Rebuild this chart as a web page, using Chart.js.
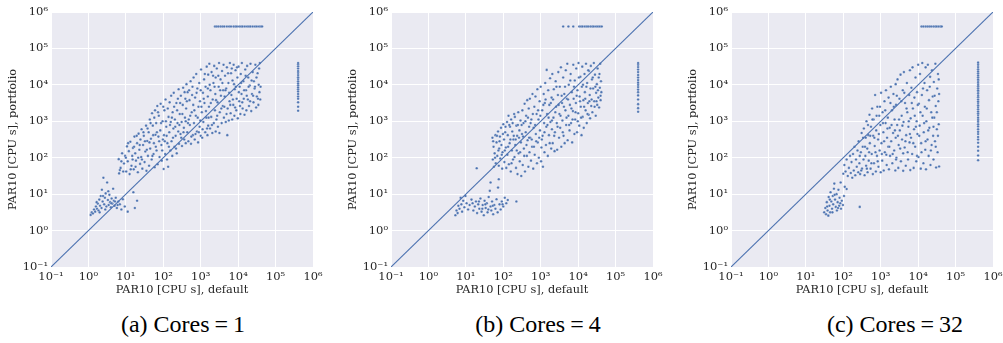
<!DOCTYPE html>
<html>
<head>
<meta charset="utf-8">
<script src="https://cdn.jsdelivr.net/npm/chart.js@4.4.1/dist/chart.umd.min.js"></script>
<style>
  body { margin: 0; background: #fff; width: 1003px; height: 343px; position: relative; overflow: hidden; }
  canvas { position: absolute; top: 0; }
  .cap { position: absolute; top: 311px; width: 260px; text-align: center; font-family: "Liberation Serif", serif; font-size: 24px; color: #000; }
  .cap .eq { margin: 0 5px; }
</style>
</head>
<body>
<canvas id="c1" width="330" height="300" style="left:0px"></canvas>
<canvas id="c2" width="330" height="300" style="left:340px"></canvas>
<canvas id="c3" width="323" height="300" style="left:680px"></canvas>
<div class="cap" style="left:53px">(a) Cores<span class="eq">=</span>1</div>
<div class="cap" style="left:408px">(b) Cores<span class="eq">=</span>4</div>
<div class="cap" style="left:765px">(c) Cores<span class="eq">=</span>32</div>
<script>
// all values are log10 of PAR10 seconds, [default, portfolio]
const decades = [-1, 0, 1, 2, 3, 4, 5, 6];
const timeoutPar10 = 4e5;
const diagonal = [0.1, 1e6];

// ---- cores = 1
const cloud1 = [
  [0.81,1.96],[0.82,1.57],[0.84,1.66],[0.86,1.72],[0.9,2.12],[0.95,1.84],[0.98,2.05],
  [1.01,1.62],[1.03,2.31],[1.05,1.9],[1.08,2.18],[1.1,1.55],[1.12,2.44],[1.15,1.78],[1.17,2.05],[1.19,2.27],
  [1.21,1.68],[1.23,2.58],[1.25,2.12],[1.27,1.92],[1.3,2.4],[1.32,1.6],[1.34,2.66],[1.36,2.22],[1.38,1.83],[1.39,2.5],
  [1.41,2.02],[1.42,2.78],[1.44,1.7],[1.46,2.35],[1.48,2.6],[1.5,1.88],[1.52,2.17],[1.54,2.88],[1.55,1.64],[1.57,2.46],[1.59,2.05],
  [1.61,2.7],[1.62,1.78],[1.64,3.05],[1.65,2.25],[1.67,2.52],[1.69,1.95],[1.7,3.22],[1.72,2.88],[1.74,2.1],[1.75,2.4],[1.77,1.74],[1.78,3.3],[1.79,2.63],
  [1.81,2.95],[1.82,2.2],[1.84,3.42],[1.85,1.82],[1.87,2.58],[1.88,3.15],[1.9,2.02],[1.92,2.75],[1.93,3.48],[1.95,2.35],[1.96,1.92],[1.98,3.0],[1.99,2.5],
  [2.01,1.69],[2.02,2.62],[2.03,3.3],[2.05,2.1],[2.06,3.6],[2.08,2.85],[2.1,1.95],[2.11,2.4],[2.13,1.75],[2.14,3.12],[2.16,2.7],[2.17,3.52],[2.19,2.2],[2.2,2.98],
  [2.21,3.7],[2.22,2.45],[2.24,2.05],[2.25,3.25],[2.27,2.8],[2.28,3.78],[2.3,2.3],[2.31,3.05],[2.33,2.6],[2.35,3.5],[2.36,2.12],[2.38,2.95],[2.39,3.62],[2.4,2.72],
  [2.41,3.88],[2.42,2.38],[2.44,3.2],[2.46,2.65],[2.47,3.7],[2.49,2.98],[2.5,2.32],[2.52,3.45],[2.53,3.92],[2.55,2.82],[2.56,2.5],[2.58,3.1],[2.59,3.62],[2.6,2.4],
  [2.61,3.35],[2.62,4.02],[2.64,2.7],[2.65,3.8],[2.67,2.45],[2.68,3.05],[2.7,3.58],[2.71,2.9],[2.73,4.1],[2.74,2.38],[2.76,3.25],[2.77,3.72],[2.79,2.62],[2.8,3.45],
  [2.81,4.2],[2.82,2.95],[2.84,2.5],[2.85,3.65],[2.87,3.15],[2.88,4.3],[2.9,2.72],[2.91,3.9],[2.93,2.42],[2.94,3.4],[2.96,4.05],[2.97,2.85],[2.98,3.55],[2.99,3.02],[3.0,2.6],
  [3.01,4.42],[3.03,3.25],[3.04,2.55],[3.06,3.78],[3.07,2.98],[3.09,4.15],[3.1,3.5],[3.12,2.7],[3.13,3.95],[3.15,3.1],[3.16,4.5],[3.18,2.62],[3.19,3.68],[3.2,4.28],[3.2,2.88],
  [3.22,3.4],[3.23,4.58],[3.25,2.8],[3.26,3.85],[3.28,3.12],[3.29,4.35],[3.31,2.68],[3.32,3.6],[3.34,4.05],[3.35,2.95],[3.36,4.52],[3.38,3.3],[3.39,3.75],[3.4,2.72],[3.4,4.2],
  [3.42,3.05],[3.43,4.45],[3.45,3.52],[3.46,2.85],[3.48,3.95],[3.49,4.6],[3.5,2.68],[3.51,3.25],[3.53,4.15],[3.54,3.7],[3.56,2.95],[3.57,4.38],[3.59,3.42],[3.6,3.85],
  [3.61,4.55],[3.62,3.1],[3.64,3.68],[3.65,4.25],[3.67,2.98],[3.68,3.9],[3.7,4.48],[3.71,2.62],[3.72,3.35],[3.74,4.05],[3.75,3.02],[3.77,3.55],[3.78,4.6],[3.8,3.22],
  [3.81,4.32],[3.82,3.72],[3.84,3.05],[3.85,4.12],[3.87,3.45],[3.88,4.55],[3.9,3.15],[3.91,3.88],[3.93,4.4],[3.95,3.3],[3.96,3.62],[3.98,4.2],[3.99,3.08],
  [4.01,4.5],[4.03,3.55],[4.04,3.95],[4.06,3.2],[4.07,4.3],[4.09,3.75],[4.1,4.6],[4.12,3.35],[4.14,4.1],[4.15,3.62],[4.17,3.18],[4.19,4.42],
  [4.21,3.85],[4.22,3.3],[4.24,4.52],[4.26,3.6],[4.27,4.2],[4.29,3.42],[4.31,3.98],[4.33,4.58],[4.35,3.28],[4.37,3.75],[4.39,4.35],
  [4.41,3.52],[4.42,4.1],[4.44,3.9],[4.46,4.55],[4.48,3.38],[4.5,3.68],[4.52,4.32],[4.54,3.45],[4.55,4.0],[4.57,3.8],[4.58,4.6],[4.59,3.6],
  [0.88,1.9],[0.93,1.62],[1.0,2.0],[1.06,2.4],[1.13,1.68],[1.18,1.95],
  [1.22,2.3],[1.26,1.75],[1.29,2.6],[1.33,2.0],[1.37,2.35],[1.43,1.95],[1.47,2.7],[1.51,2.45],[1.56,2.22],[1.58,2.8],
  [1.63,2.42],[1.66,2.95],[1.71,2.05],[1.73,2.62],[1.76,3.1],[1.8,2.3],[1.83,2.7],[1.86,3.25],[1.89,2.45],[1.94,2.95],[1.97,2.2],[2.0,3.4],
  [2.04,2.45],[2.07,3.0],[2.09,2.6],[2.12,3.35],[2.15,2.3],[2.18,2.9],[2.23,3.1],[2.26,2.55],[2.29,3.4],[2.32,2.85],[2.34,2.25],[2.37,3.3],
  [2.43,2.9],[2.45,3.5],[2.48,2.55],[2.51,3.2],[2.54,2.7],[2.57,3.8],[2.6,3.0],[2.63,3.55],[2.66,2.95],[2.69,3.85],[2.72,3.15],[2.75,2.58],[2.78,3.95],
  [2.83,3.3],[2.86,2.65],[2.89,3.78],[2.92,3.1],[2.95,2.7],[3.0,3.85],[3.02,3.4],[3.05,2.78],[3.08,3.62],[3.11,4.3],[3.14,3.28],[3.17,2.8],[3.19,3.9],
  [3.21,3.1],[3.24,4.0],[3.27,3.5],[3.3,2.9],[3.33,4.25],[3.37,3.95],[3.41,3.58],[3.44,3.15],[3.47,4.25],[3.52,3.85],[3.55,3.35],[3.58,4.05],
  [3.63,3.4],[3.66,3.85],[3.69,3.2],[3.73,4.32],[3.76,3.78],[3.79,3.45],[3.83,4.45],[3.86,3.6],[3.89,4.02],[3.92,3.38],[3.94,3.95],[3.97,4.48],
  [4.02,3.8],[4.05,3.42],[4.08,4.05],[4.11,3.52],[4.16,3.85],[4.2,4.25],[4.23,3.7],[4.28,3.95],[4.32,3.55],[4.36,4.12],[4.4,3.7],[4.45,3.95],[4.49,4.2],[4.53,3.62],[4.56,4.45],[4.6,3.95]
];
const low1 = [
  [0.06,0.43],[0.09,0.5],[0.12,0.47],[0.15,0.58],[0.18,0.52],[0.2,0.66],[0.23,0.6],[0.25,0.74],[0.27,0.55],[0.29,0.85],
  [0.31,0.68],[0.33,0.95],[0.35,0.62],[0.36,1.12],[0.38,0.8],[0.4,1.45],[0.42,0.72],[0.44,0.9],[0.46,1.02],[0.48,0.66],
  [0.5,1.32],[0.52,0.84],[0.54,0.7],[0.56,0.98],[0.58,0.78],[0.6,0.64],[0.62,0.88],[0.64,0.74],[0.66,1.15],[0.68,0.82],
  [0.7,0.68],[0.73,0.9],[0.76,0.62],[0.8,0.8],[0.84,0.72],[0.88,0.58],[0.92,0.86],[0.97,0.66],[1.05,0.52],[1.2,1.05],[1.24,0.62],[1.3,0.82],
  [0.22,0.78],[0.3,0.5],[0.39,0.95],[0.45,0.58],[0.53,1.08],[0.61,0.75],[0.71,0.8],[0.78,0.7]
];
const row1 = [3.38,3.42,3.47,3.53,3.58,3.63,3.7,3.76,3.81,3.88,3.93,3.97,4.03,4.08,4.12,4.18,4.24,4.29,4.33,4.39,4.45,4.5,4.56,4.61,4.64];
const col1 = [3.29,3.4,3.52,3.62,3.68,3.75,3.82,3.88,3.93,3.99,4.04,4.1,4.16,4.21,4.27,4.33,4.38,4.45,4.51,4.56,4.6];

// ---- cores = 4
const cloud2 = [
  [1.29,1.71],
  [1.71,2.55],[1.72,1.95],[1.74,2.3],[1.75,1.75],[1.77,2.12],[1.79,2.62],[1.8,1.85],[1.82,2.42],[1.84,2.05],[1.86,2.72],[1.88,1.78],[1.89,2.25],
  [1.91,2.58],[1.92,1.98],[1.94,2.82],[1.95,2.35],[1.97,1.7],[1.98,2.15],[2.0,2.92],[2.02,2.5],[2.03,1.88],[2.05,2.7],[2.07,2.28],[2.08,1.72],[2.1,2.98],
  [2.11,2.08],[2.12,2.62],[2.14,3.15],[2.15,1.82],[2.17,2.4],[2.18,2.85],[2.2,1.62],[2.21,3.05],[2.23,2.2],[2.24,2.72],[2.26,1.95],[2.27,2.5],[2.29,3.2],[2.3,2.02],
  [2.31,3.12],[2.32,2.35],[2.34,1.72],[2.35,2.88],[2.37,2.6],[2.38,1.55],[2.4,3.25],[2.41,2.12],[2.43,2.75],[2.44,1.9],[2.46,3.02],[2.47,2.42],[2.48,1.5],[2.5,2.65],
  [2.51,3.3],[2.52,1.8],[2.54,2.95],[2.55,2.25],[2.57,3.48],[2.58,1.62],[2.6,2.7],[2.61,3.15],[2.63,2.05],[2.64,3.58],[2.65,2.48],[2.67,1.75],[2.68,3.35],[2.69,2.85],[2.7,2.15],
  [2.71,3.62],[2.72,2.55],[2.74,1.92],[2.75,3.05],[2.77,2.3],[2.78,3.75],[2.8,1.7],[2.81,2.82],[2.83,3.4],[2.84,2.08],[2.86,3.68],[2.87,2.65],[2.89,3.2],[2.9,1.85],
  [2.91,3.88],[2.92,2.42],[2.94,3.05],[2.95,2.0],[2.97,3.55],[2.98,2.75],[3.0,3.95],[3.01,1.9],[3.02,2.28],[3.04,3.3],[3.05,2.6],[3.06,1.75],[3.08,3.75],[3.09,2.95],[3.1,2.15],
  [3.11,3.5],[3.12,4.05],[3.14,2.35],[3.15,2.85],[3.16,4.41],[3.17,3.2],[3.19,2.05],[3.2,3.85],[3.22,2.62],[3.23,3.45],[3.25,4.18],[3.26,2.98],[3.28,2.25],[3.29,3.65],[3.3,2.78],
  [3.31,4.3],[3.32,2.4],[3.34,3.1],[3.35,3.88],[3.37,2.18],[3.38,2.7],[3.4,4.1],[3.41,3.4],[3.43,2.95],[3.44,2.22],[3.46,3.72],[3.47,4.35],[3.49,2.55],[3.5,3.2],
  [3.51,3.95],[3.52,2.82],[3.54,4.48],[3.55,2.3],[3.57,3.5],[3.58,3.02],[3.6,4.2],[3.61,2.6],[3.63,3.75],[3.64,2.4],[3.66,3.3],[3.67,4.4],[3.68,2.9],[3.7,3.62],
  [3.71,4.58],[3.72,2.48],[3.74,3.15],[3.75,4.0],[3.77,2.75],[3.78,3.45],[3.8,4.3],[3.81,2.95],[3.83,3.8],[3.84,2.42],[3.86,3.28],[3.87,4.55],[3.88,3.62],[3.9,2.65],
  [3.91,4.12],[3.92,3.05],[3.94,3.5],[3.95,4.45],[3.97,2.7],[3.98,3.85],[4.0,3.22],[4.01,4.6],[4.03,2.88],[4.04,3.68],[4.06,4.22],[4.07,3.4],[4.09,2.62],[4.1,3.95],
  [4.11,4.5],[4.12,3.12],[4.14,3.58],[4.15,2.82],[4.17,4.3],[4.18,3.8],[4.2,3.3],[4.21,4.58],[4.23,2.95],[4.24,4.05],[4.26,3.5],[4.28,3.18],[4.29,4.38],
  [4.31,3.72],[4.32,3.08],[4.34,4.52],[4.35,3.42],[4.37,4.15],[4.38,3.25],[4.4,3.9],[4.42,4.6],[4.43,3.55],[4.45,4.28],[4.47,3.15],[4.48,3.78],[4.5,4.02],
  [4.51,3.45],[4.52,4.45],[4.54,3.65],[4.55,4.2],[4.56,3.38],[4.58,3.92],[4.59,4.58],[4.6,3.58],[4.61,4.1],[4.62,3.8],
  [1.73,2.45],[1.78,2.0],[1.83,2.6],[1.87,2.2],[1.9,2.45],[1.96,2.08],[1.99,2.65],[2.04,2.2],[2.06,2.85],
  [2.13,2.3],[2.16,2.9],[2.19,2.5],[2.22,1.85],[2.25,2.95],[2.28,2.6],[2.33,2.5],[2.36,2.2],[2.39,2.9],[2.42,2.55],[2.45,2.15],[2.49,2.9],
  [2.53,2.58],[2.56,2.05],[2.59,3.0],[2.62,2.35],[2.66,3.1],[2.69,2.55],[2.73,2.95],[2.76,2.5],[2.79,3.2],[2.82,2.3],[2.85,2.9],[2.88,2.45],
  [2.93,3.3],[2.96,2.55],[2.99,3.15],[3.03,2.5],[3.07,3.45],[3.1,2.7],[3.13,3.6],[3.18,2.9],[3.21,3.1],[3.24,2.4],[3.27,3.5],[3.3,3.02],
  [3.33,3.6],[3.36,2.6],[3.39,3.25],[3.42,3.95],[3.45,2.85],[3.48,3.45],[3.53,3.15],[3.56,3.7],[3.59,2.7],[3.62,3.4],[3.65,3.95],[3.69,3.1],
  [3.73,3.6],[3.76,2.9],[3.79,4.12],[3.82,3.35],[3.85,3.05],[3.89,3.95],[3.93,3.25],[3.96,3.7],[3.99,3.0],[4.02,4.2],[4.05,3.55],[4.08,3.1],
  [4.13,4.0],[4.16,3.4],[4.19,3.62],[4.22,3.95],[4.25,3.2],[4.27,4.4],[4.3,3.55],[4.33,3.9],[4.36,3.6],[4.39,4.2],[4.44,3.4],[4.46,3.95],[4.49,3.55],[4.53,3.85],[4.57,4.3],[4.6,3.7]
];
const low2 = [
  [0.72,0.42],[0.75,0.55],[0.78,0.48],[0.8,0.68],[0.83,0.6],[0.86,0.9],[0.88,0.72],[0.9,0.52],[0.93,0.82],[0.96,0.64],
  [0.99,0.95],[1.02,0.75],[1.06,0.58],[1.1,0.7],[1.15,0.85],[1.2,0.55],[1.24,0.66],[1.27,0.8],[1.3,0.48],[1.33,0.72],
  [1.36,0.6],[1.39,0.88],[1.42,0.52],[1.45,0.7],[1.48,0.42],[1.5,0.82],[1.53,0.62],[1.56,0.75],[1.58,0.5],[1.61,0.92],
  [1.64,1.09],[1.66,0.66],[1.66,1.32],[1.68,0.55],[1.7,0.8],[1.73,0.45],[1.76,0.7],[1.79,0.6],[1.82,0.86],[1.86,1.18],
  [1.88,1.41],[1.9,0.72],[1.93,0.58],[1.96,0.8],[2.0,0.66],[2.04,0.9],[2.08,0.75],[2.12,0.84],[2.35,0.8],
  [1.18,0.75],[1.35,0.8],[1.44,0.6],[1.52,0.72],[1.6,0.58],[1.72,0.68],[1.85,0.5],[1.98,0.72]
];
const row2 = [3.6,3.74,3.87,4.03,4.08,4.12,4.18,4.23,4.27,4.33,4.38,4.42,4.48,4.53,4.58,4.63];
const col2 = [3.26,3.36,3.47,3.6,3.71,3.8,3.87,3.94,4.0,4.06,4.13,4.2,4.27,4.35,4.42,4.49,4.55,4.6];

// ---- cores = 32
const cloud3 = [
  [2.0,1.56],[2.03,1.8],[2.06,1.62],[2.09,1.95],[2.12,1.5],[2.15,1.72],[2.18,2.05],[2.2,1.58],
  [2.22,1.88],[2.24,1.45],[2.26,2.1],[2.28,1.65],[2.3,2.3],[2.32,1.52],[2.34,1.95],[2.36,1.75],[2.38,2.2],[2.4,1.6],
  [2.41,2.45],[2.43,1.85],[2.45,1.55],[2.47,2.15],[2.49,2.68],[2.5,1.7],[2.52,2.3],[2.54,1.95],[2.55,2.8],[2.57,1.52],[2.59,2.05],[2.6,2.55],
  [2.61,1.78],[2.62,3.0],[2.64,2.25],[2.65,1.6],[2.67,2.62],[2.68,1.92],[2.7,3.18],[2.71,2.4],[2.73,1.7],[2.74,2.85],[2.76,2.1],[2.77,3.35],[2.79,1.55],[2.8,2.6],
  [2.81,3.05],[2.82,1.85],[2.84,2.32],[2.85,3.72],[2.87,1.62],[2.88,2.75],[2.9,2.05],[2.91,3.4],[2.93,2.5],[2.94,1.75],[2.96,3.15],[2.97,2.2],[2.99,2.9],[3.0,1.6],
  [3.01,3.78],[3.02,2.4],[3.04,1.92],[3.05,3.25],[3.07,2.7],[3.08,1.65],[3.1,3.55],[3.11,2.15],[3.13,2.95],[3.14,3.85],[3.16,1.8],[3.17,2.55],[3.19,3.1],[3.2,2.3],
  [3.21,3.65],[3.22,1.68],[3.24,2.82],[3.25,2.05],[3.27,3.95],[3.28,2.45],[3.3,3.3],[3.31,1.85],[3.33,2.68],[3.34,3.75],[3.36,2.2],[3.37,3.05],[3.39,1.65],[3.4,2.55],[3.4,4.02],
  [3.41,3.45],[3.42,2.0],[3.44,2.9],[3.45,4.15],[3.47,1.72],[3.48,2.35],[3.5,3.62],[3.51,2.75],[3.53,4.28],[3.54,1.9],[3.56,3.15],[3.57,2.5],[3.59,3.85],[3.6,2.12],[3.6,1.64],
  [3.61,2.98],[3.62,4.35],[3.64,2.28],[3.65,3.5],[3.67,1.78],[3.68,2.62],[3.7,4.05],[3.71,3.25],[3.73,1.95],[3.74,2.85],[3.76,3.72],[3.77,2.42],[3.78,4.4],[3.79,1.66],[3.8,3.08],
  [3.81,2.55],[3.82,3.92],[3.84,2.1],[3.85,4.48],[3.86,3.35],[3.88,1.72],[3.89,2.78],[3.9,3.65],[3.92,2.3],[3.93,4.2],[3.95,1.9],[3.96,3.0],[3.97,3.8],[3.98,2.65],[4.0,4.55],
  [4.01,2.02],[4.02,3.48],[4.04,2.88],[4.05,4.3],[4.07,1.7],[4.08,2.4],[4.1,3.72],[4.11,4.6],[4.12,3.15],[4.14,1.85],[4.15,2.7],[4.17,4.05],[4.18,3.4],[4.19,2.22],[4.2,4.48],
  [4.21,1.68],[4.22,3.0],[4.24,3.85],[4.25,2.5],[4.26,4.55],[4.28,2.05],[4.29,3.58],[4.3,2.82],[4.32,4.22],[4.33,1.8],[4.35,3.25],[4.36,2.35],[4.37,4.4],[4.39,3.68],[4.4,2.6],
  [4.41,1.95],[4.42,4.08],[4.43,3.1],[4.45,2.45],[4.46,4.58],[4.47,3.42],[4.48,1.73],[4.5,2.78],[4.51,3.9],[4.52,2.15],[4.53,4.3],[4.54,3.55],[4.55,2.92],[4.56,1.76],[4.56,3.75],
  [2.44,2.05],[2.48,1.65],[2.53,2.55],[2.58,2.3],[2.63,1.7],[2.66,2.9],[2.69,2.15],[2.72,2.6],[2.75,1.85],[2.78,3.05],
  [2.83,2.55],[2.86,2.15],[2.89,3.15],[2.92,1.9],[2.95,2.65],[2.98,3.4],[3.03,2.1],[3.06,2.95],[3.09,2.45],[3.12,3.3],[3.15,2.08],[3.18,2.8],
  [3.23,2.3],[3.26,3.5],[3.29,2.9],[3.32,2.1],[3.35,3.4],[3.38,2.75],[3.41,1.95],[3.43,3.7],[3.46,2.6],[3.49,3.05],[3.52,2.25],[3.55,3.55],[3.58,2.88],
  [3.63,3.78],[3.66,2.45],[3.69,3.35],[3.72,2.15],[3.75,3.0],[3.78,2.65],[3.83,3.5],[3.87,2.4],[3.91,3.15],[3.94,2.85],[3.97,2.05],[3.99,3.45],
  [4.03,2.6],[4.06,3.25],[4.09,2.15],[4.13,3.9],[4.16,2.95],[4.2,2.45],[4.23,3.35],[4.27,2.75],[4.31,3.95],[4.34,2.2],[4.38,3.1],[4.41,2.85],[4.44,3.7],[4.47,2.3],[4.5,3.25],[4.53,2.6],[4.55,4.15]
];
const low3 = [
  [1.49,0.5],[1.52,0.62],[1.54,0.45],[1.56,0.78],[1.58,0.55],[1.6,0.41],[1.61,0.92],[1.63,0.68],[1.65,0.5],[1.66,1.05],
  [1.68,0.8],[1.7,0.6],[1.72,0.95],[1.73,0.72],[1.75,1.15],[1.76,1.29],[1.78,0.85],[1.8,0.65],[1.82,1.0],[1.83,0.55],
  [1.85,0.78],[1.87,1.12],[1.89,0.68],[1.9,0.9],[1.93,1.32],[1.94,0.6],[1.96,0.82],[1.99,0.7],[2.02,0.95],[2.04,1.2],[2.09,1.14],[2.44,0.65],
  [1.57,0.66],[1.64,0.85],[1.71,0.5],[1.77,0.98],[1.86,0.62],[1.92,0.75]
];
const row3 = [4.09,4.14,4.2,4.25,4.3,4.35,4.41,4.46,4.5,4.55,4.6,4.63];
const col3 = [1.93,2.06,2.19,2.3,2.41,2.5,2.57,2.65,2.71,2.78,2.86,2.92,2.99,3.04,3.1,3.17,3.22,3.27,3.33,3.39,3.44,3.5,3.54,3.6,
  3.66,3.7,3.76,3.81,3.85,3.91,3.96,4.0,4.06,4.11,4.15,4.21,4.26,4.32,4.37,4.43,4.49,4.55,4.61];

const SUP = { "-": "⁻", "0": "⁰", "1": "¹", "2": "²", "3": "³", "4": "⁴", "5": "⁵", "6": "⁶" };
const tickText = (v) => "10" + String(Math.round(Math.log10(v))).split("").map((c) => SUP[c]).join("");

const BLUE = "#4c72b0";
const TEXT = "#262626";
const tickFont = { family: "DejaVu Serif", size: 11.5 };
const titleFont = { family: "DejaVu Serif", size: 11.3 };

const areaBg = {
  id: "areaBg",
  beforeDraw(chart) {
    const { ctx, chartArea: a } = chart;
    ctx.save();
    ctx.fillStyle = "#eaeaf2";
    ctx.fillRect(a.left, a.top, a.right - a.left, a.bottom - a.top);
    ctx.restore();
  },
};

const logAxis = (title, isX) => ({
  type: "logarithmic",
  min: 0.1,
  max: 1e6,
  afterBuildTicks: (s) => { s.ticks = decades.map((e) => ({ value: Math.pow(10, e) })); },
  afterFit: (s) => {
    if (isX) s.height = 33; else s.width = 51;
    s.paddingTop = 0; s.paddingBottom = 0; s.paddingLeft = 0; s.paddingRight = 0;
  },
  ticks: { callback: tickText, font: tickFont, color: TEXT, padding: 3, autoSkip: false, maxRotation: 0 },
  grid: { color: "#ffffff", lineWidth: 1, drawTicks: false },
  border: { display: false },
  title: { display: true, text: title, font: titleFont, color: TEXT, padding: isX ? { top: 0, bottom: 3 } : { top: 6, bottom: 0 } },
});

const makePanel = (id, cloud, low, row, col, rightPad) => {
  const pts = cloud.concat(low).map((p) => ({ x: Math.pow(10, p[0]), y: Math.pow(10, p[1]) }));
  row.forEach((v) => pts.push({ x: Math.pow(10, v), y: timeoutPar10 }));
  col.forEach((v) => pts.push({ x: timeoutPar10, y: Math.pow(10, v) }));

  new Chart(document.getElementById(id).getContext("2d"), {
    type: "scatter",
    data: {
      datasets: [
        {
          type: "line",
          data: diagonal.map((v) => ({ x: v, y: v })),
          borderColor: BLUE,
          borderWidth: 1.1,
          pointRadius: 0,
          fill: false,
          order: 0,
        },
        {
          data: pts,
          backgroundColor: BLUE,
          borderColor: "rgba(255,255,255,0.8)",
          borderWidth: 0.3,
          pointRadius: 1.3,
          order: 1,
        },
      ],
    },
    options: {
      responsive: false,
      animation: false,
      layout: { padding: { top: 12, right: rightPad, bottom: 0, left: 0 } },
      plugins: { legend: { display: false }, tooltip: { enabled: false } },
      scales: {
        x: logAxis("PAR10 [CPU s], default", true),
        y: logAxis("PAR10 [CPU s], portfolio", false),
      },
    },
    plugins: [areaBg],
  });
};

makePanel("c1", cloud1, low1, row1, col1, 17);
makePanel("c2", cloud2, low2, row2, col2, 17);
makePanel("c3", cloud3, low3, row3, col3, 10);
</script>
</body>
</html>
